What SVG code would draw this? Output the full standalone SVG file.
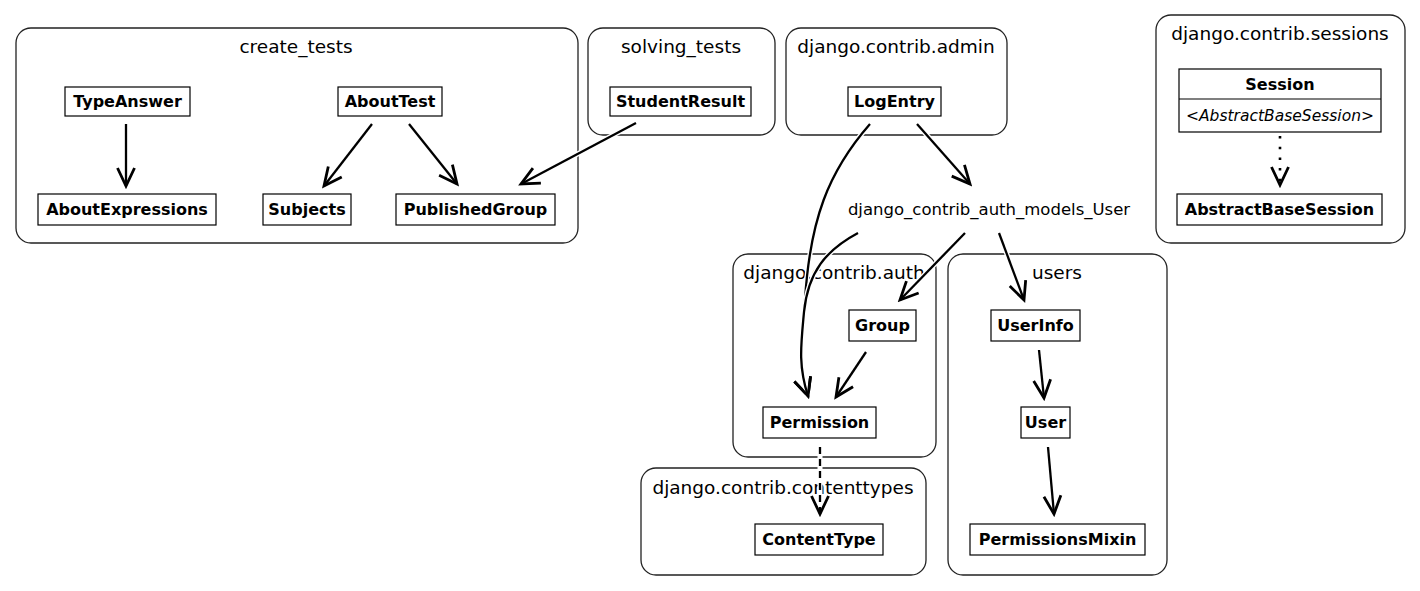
<svg xmlns="http://www.w3.org/2000/svg" width="1420" height="591" viewBox="0 0 1420 591">
<defs>
<style>
.cl{fill:#fff;stroke:#222;stroke-width:1.3}
.ct{font-family:"DejaVu Sans",sans-serif;font-size:18.5px;text-anchor:middle;fill:#000}
.nb{fill:#fff;stroke:#000;stroke-width:1.2}
.nt{font-family:"DejaVu Sans",sans-serif;font-size:16px;font-weight:bold;text-anchor:middle;fill:#000}
.pt{font-family:"DejaVu Sans",sans-serif;font-size:16.5px;text-anchor:middle;fill:#000}
.it{font-family:"DejaVu Sans",sans-serif;font-size:15.5px;font-style:italic;text-anchor:middle;fill:#000}
.h{fill:none;stroke:#fff;stroke-width:5}
.e{fill:none;stroke:#000;stroke-width:2.3;marker-end:url(#v)}
.dash{stroke-dasharray:7,5}
.dot{stroke-dasharray:2.5,8.2;stroke-width:2.6}
</style>
<marker id="v" viewBox="-3 -3 24 23" refX="18" refY="8.5" markerWidth="24" markerHeight="23" markerUnits="userSpaceOnUse" orient="auto">
<path d="M0,0 L18,8.5 L0,17" fill="none" stroke="#000" stroke-width="2.8" stroke-linejoin="miter" stroke-dasharray="none"/>
</marker>
</defs>
<rect width="1420" height="591" fill="#fff"/>
<g id="clusters">
<g id="c_create_tests"><rect class="cl" x="16" y="28" width="562" height="215" rx="15"/><text class="ct" x="296" y="53">create_tests</text></g>
<g id="c_solving_tests"><rect class="cl" x="588" y="28" width="187" height="107" rx="15"/><text class="ct" x="681" y="53">solving_tests</text></g>
<g id="c_admin"><rect class="cl" x="786" y="28" width="221" height="107" rx="15"/><text class="ct" x="896" y="53">django.contrib.admin</text></g>
<g id="c_sessions"><rect class="cl" x="1156" y="15" width="249" height="228" rx="15"/><text class="ct" x="1280" y="40">django.contrib.sessions</text></g>
<g id="c_auth"><rect class="cl" x="733" y="254" width="203" height="203" rx="15"/><text class="ct" x="834" y="279">django.contrib.auth</text></g>
<g id="c_users"><rect class="cl" x="948" y="254" width="219" height="321" rx="15"/><text class="ct" x="1057" y="279">users</text></g>
<g id="c_contenttypes"><rect class="cl" x="641" y="468" width="285" height="107" rx="15"/><text class="ct" x="783" y="494">django.contrib.contenttypes</text></g>
</g>
<g id="connectors">
<path class="h" d="M126,124 L126,186"/><path class="e" d="M126,124 L126,186"/>
<path class="h" d="M372,124 L324,186"/><path class="e" d="M372,124 L324,186"/>
<path class="h" d="M409,124 L457,184"/><path class="e" d="M409,124 L457,184"/>
<path class="h" d="M636,123 L521,184"/><path class="e" d="M636,123 L521,184"/>
<path class="h" d="M917,124 L970,184"/><path class="e" d="M917,124 L970,184"/>
<path class="h" d="M870,124 C828,172 810,220 805,300 C802,345 798,365 808,396"/><path class="e" d="M870,124 C828,172 810,220 805,300 C802,345 798,365 808,396"/>
<path class="h" d="M858,233 C826,250 808,272 804,312 C801,345 798,365 808,396"/><path class="e" d="M858,233 C826,250 808,272 804,312 C801,345 798,365 808,396"/>
<path class="h" d="M965,233 L900,300"/><path class="e" d="M965,233 L900,300"/>
<path class="h" d="M999,233 L1024,300"/><path class="e" d="M999,233 L1024,300"/>
<path class="h" d="M866,352 L836,397"/><path class="e" d="M866,352 L836,397"/>
<path class="h" d="M1039,350 L1044,398"/><path class="e" d="M1039,350 L1044,398"/>
<path class="h" d="M1048,447 L1054,514"/><path class="e" d="M1048,447 L1054,514"/>
<path class="h" d="M820,447 L820,514"/><path class="e dash" d="M820,447 L820,514"/>
<path class="h" d="M1280,136 L1280,185"/><path class="e dot" d="M1280,136 L1280,185"/>
</g>
<g id="n_TypeAnswer"><rect class="nb" x="65" y="87" width="125" height="29"/><text class="nt" x="127.5" y="107">TypeAnswer</text></g>
<g id="n_AboutTest"><rect class="nb" x="338" y="87" width="104" height="29"/><text class="nt" x="390" y="107">AboutTest</text></g>
<g id="n_AboutExpressions"><rect class="nb" x="38" y="194" width="178" height="31"/><text class="nt" x="127" y="215">AboutExpressions</text></g>
<g id="n_Subjects"><rect class="nb" x="263" y="194" width="88" height="31"/><text class="nt" x="307" y="215">Subjects</text></g>
<g id="n_PublishedGroup"><rect class="nb" x="396" y="194" width="159" height="31"/><text class="nt" x="475.5" y="215">PublishedGroup</text></g>
<g id="n_StudentResult"><rect class="nb" x="610" y="87" width="141" height="29"/><text class="nt" x="680.5" y="107">StudentResult</text></g>
<g id="n_LogEntry"><rect class="nb" x="848" y="87" width="93" height="29"/><text class="nt" x="894.5" y="107">LogEntry</text></g>
<g id="n_Session"><rect class="nb" x="1179" y="69" width="202" height="63"/><line x1="1179" y1="99" x2="1381" y2="99" stroke="#000" stroke-width="1.2"/><text class="nt" x="1280" y="90">Session</text><text class="it" x="1280" y="121">&lt;AbstractBaseSession&gt;</text></g>
<g id="n_AbstractBaseSession"><rect class="nb" x="1177" y="194" width="205" height="31"/><text class="nt" x="1279.5" y="215">AbstractBaseSession</text></g>
<g id="n_django_contrib_auth_models_User"><text class="pt" x="989" y="215">django_contrib_auth_models_User</text></g>
<g id="n_Group"><rect class="nb" x="849" y="310" width="67" height="31"/><text class="nt" x="882.5" y="331">Group</text></g>
<g id="n_Permission"><rect class="nb" x="763" y="407" width="113" height="31"/><text class="nt" x="819.5" y="428">Permission</text></g>
<g id="n_UserInfo"><rect class="nb" x="991" y="310" width="89" height="31"/><text class="nt" x="1035.5" y="331">UserInfo</text></g>
<g id="n_User"><rect class="nb" x="1021" y="407" width="49" height="31"/><text class="nt" x="1045.5" y="428">User</text></g>
<g id="n_PermissionsMixin"><rect class="nb" x="970" y="524" width="175" height="31"/><text class="nt" x="1057.5" y="545">PermissionsMixin</text></g>
<g id="n_ContentType"><rect class="nb" x="755" y="524" width="128" height="31"/><text class="nt" x="819" y="545">ContentType</text></g>
</svg>
